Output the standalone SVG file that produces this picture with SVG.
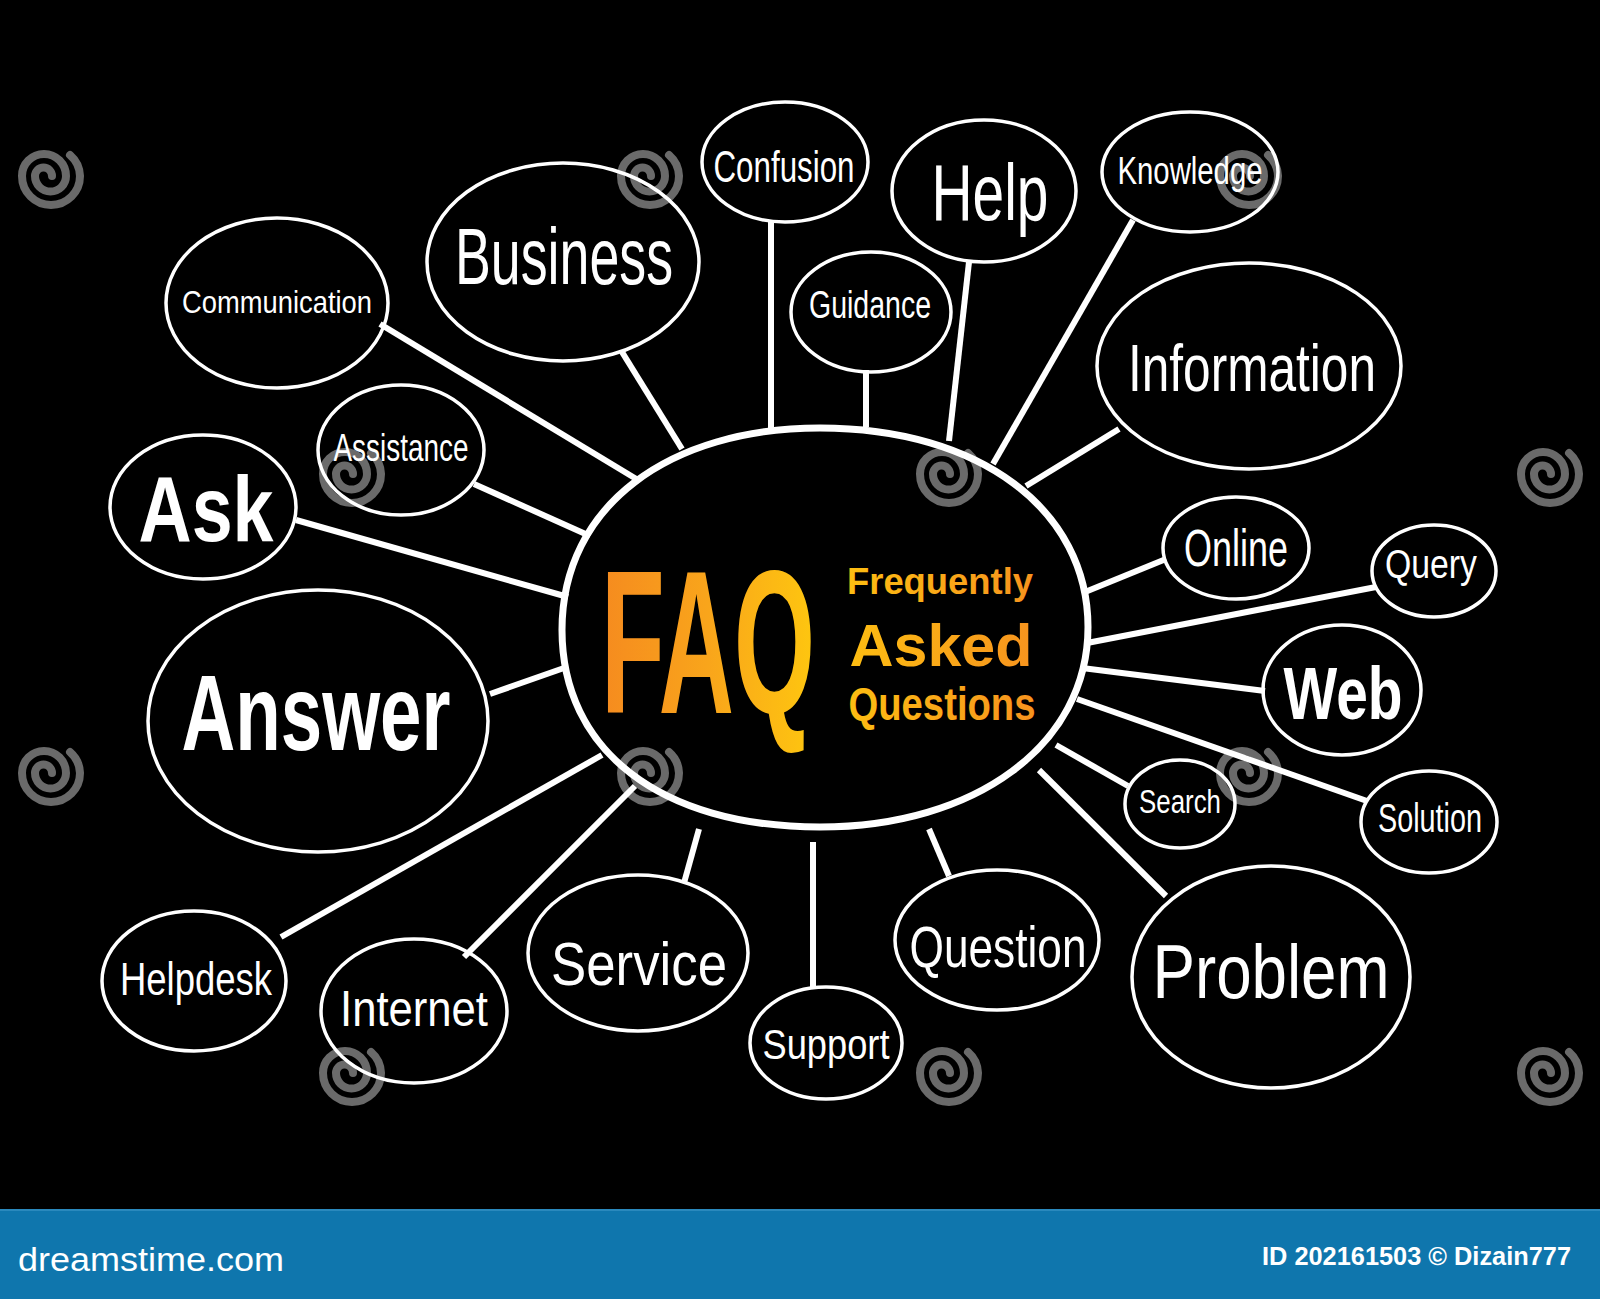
<svg xmlns="http://www.w3.org/2000/svg" width="1600" height="1299" viewBox="0 0 1600 1299">
<defs>
<style>
.node{fill:none;stroke:#fff;stroke-width:3.5}
.conn{stroke:#fff;stroke-width:6;stroke-linecap:butt;fill:none}
.lbl{fill:#fff;font-family:"Liberation Sans","DejaVu Sans",sans-serif;text-anchor:middle}
.b{font-weight:bold}
.wm{fill:none;stroke:#6a6a6a;stroke-width:8;stroke-linecap:round}
</style>
<linearGradient id="gFaq" gradientUnits="userSpaceOnUse" x1="-216" y1="0" x2="216" y2="0">
<stop offset="0" stop-color="#f58a1f"/>
<stop offset="0.5" stop-color="#f9a51b"/>
<stop offset="1" stop-color="#fec70f"/>
</linearGradient>
<linearGradient id="gSub" gradientUnits="userSpaceOnUse" x1="850" y1="0" x2="1036" y2="0">
<stop offset="0" stop-color="#fdbd12"/>
<stop offset="1" stop-color="#f7931e"/>
</linearGradient>
<path id="spiral" d="M 3,0 A 8.5,8.5 0 0 0 -14,0 A 15.5,15.5 0 0 0 17,0 A 22,22 0 0 0 -27,0 A 29,29 0 0 0 31,0 A 29,29 0 0 0 21,-21"/>
</defs>
<rect x="0" y="0" width="1600" height="1299" fill="#000"/>

<g id="watermarks">
<use href="#spiral" class="wm" x="49" y="176"/>
<use href="#spiral" class="wm" x="648" y="176"/>
<use href="#spiral" class="wm" x="1247" y="176"/>
<use href="#spiral" class="wm" x="350" y="474"/>
<use href="#spiral" class="wm" x="947" y="474"/>
<use href="#spiral" class="wm" x="1548" y="474"/>
<use href="#spiral" class="wm" x="49" y="773"/>
<use href="#spiral" class="wm" x="648" y="773"/>
<use href="#spiral" class="wm" x="1247" y="773"/>
<use href="#spiral" class="wm" x="350" y="1073"/>
<use href="#spiral" class="wm" x="947" y="1073"/>
<use href="#spiral" class="wm" x="1548" y="1073"/>
</g>

<g id="connectors">
<line class="conn" x1="380" y1="324" x2="638" y2="480"/>
<line class="conn" x1="622" y1="352" x2="682" y2="449"/>
<line class="conn" x1="771" y1="222" x2="771" y2="429"/>
<line class="conn" x1="866" y1="370" x2="866" y2="427"/>
<line class="conn" x1="969" y1="262" x2="949" y2="441"/>
<line class="conn" x1="1133" y1="220" x2="993" y2="464"/>
<line class="conn" x1="1119" y1="429" x2="1026" y2="486"/>
<line class="conn" x1="474" y1="484" x2="590" y2="536"/>
<line class="conn" x1="296" y1="520" x2="568" y2="597"/>
<line class="conn" x1="490" y1="694" x2="564" y2="668"/>
<line class="conn" x1="281" y1="937" x2="602" y2="755"/>
<line class="conn" x1="464" y1="957" x2="635" y2="786"/>
<line class="conn" x1="684" y1="883" x2="699" y2="829"/>
<line class="conn" x1="813" y1="842" x2="813" y2="988"/>
<line class="conn" x1="929" y1="829" x2="949" y2="876"/>
<line class="conn" x1="1039" y1="770" x2="1166" y2="896"/>
<line class="conn" x1="1056" y1="745" x2="1128" y2="786"/>
<line class="conn" x1="1077" y1="699" x2="1367" y2="801"/>
<line class="conn" x1="1082" y1="668" x2="1265" y2="691"/>
<line class="conn" x1="1087" y1="643" x2="1376" y2="587"/>
<line class="conn" x1="1085" y1="592" x2="1166" y2="559"/>
</g>

<g id="node-faq">
<path d="M 562,630 C 562,505 670,428 820,428 C 980,428 1088,510 1088,627 C 1088,745 975,827 820,827 C 660,827 562,750 562,630 Z" fill="none" stroke="#fff" stroke-width="7"/>
<text transform="translate(708,713) scale(0.508,1)" x="0" y="0" font-family="Liberation Sans,sans-serif" font-weight="bold" font-size="205" fill="url(#gFaq)" text-anchor="middle">FAQ</text>
<text x="940" y="594" font-family="Liberation Sans,sans-serif" font-weight="bold" font-size="36" fill="url(#gSub)" text-anchor="middle" textLength="186" lengthAdjust="spacingAndGlyphs">Frequently</text>
<text x="941" y="666" font-family="Liberation Sans,sans-serif" font-weight="bold" font-size="60" fill="url(#gSub)" text-anchor="middle" textLength="183" lengthAdjust="spacingAndGlyphs">Asked</text>
<text x="942" y="720" font-family="Liberation Sans,sans-serif" font-weight="bold" font-size="46" fill="url(#gSub)" text-anchor="middle" textLength="187" lengthAdjust="spacingAndGlyphs">Questions</text>
</g>

<g id="node-communication"><ellipse class="node" cx="277" cy="303" rx="111" ry="85"/><text class="lbl" x="277" y="313" font-size="32" textLength="190" lengthAdjust="spacingAndGlyphs">Communication</text></g>
<g id="node-business"><ellipse class="node" cx="563" cy="262" rx="136" ry="99"/><text class="lbl" x="564" y="284" font-size="80" textLength="218" lengthAdjust="spacingAndGlyphs">Business</text></g>
<g id="node-confusion"><ellipse class="node" cx="785" cy="162" rx="83" ry="60"/><text class="lbl" x="784" y="182" font-size="44" textLength="141" lengthAdjust="spacingAndGlyphs">Confusion</text></g>
<g id="node-help"><ellipse class="node" cx="984" cy="191" rx="92" ry="71"/><text class="lbl" x="990" y="220" font-size="80" textLength="117" lengthAdjust="spacingAndGlyphs">Help</text></g>
<g id="node-knowledge"><ellipse class="node" cx="1190" cy="172" rx="88" ry="60"/><text class="lbl" x="1190" y="184" font-size="38" textLength="145" lengthAdjust="spacingAndGlyphs">Knowledge</text></g>
<g id="node-guidance"><ellipse class="node" cx="871" cy="312" rx="80" ry="60"/><text class="lbl" x="870" y="318" font-size="38" textLength="122" lengthAdjust="spacingAndGlyphs">Guidance</text></g>
<g id="node-information"><ellipse class="node" cx="1249" cy="366" rx="152" ry="103"/><text class="lbl" x="1252" y="391" font-size="66" textLength="248" lengthAdjust="spacingAndGlyphs">Information</text></g>
<g id="node-assistance"><ellipse class="node" cx="401" cy="450" rx="83" ry="65"/><text class="lbl" x="401" y="461" font-size="38" textLength="135" lengthAdjust="spacingAndGlyphs">Assistance</text></g>
<g id="node-ask"><ellipse class="node" cx="203" cy="507" rx="93" ry="72"/><text class="lbl b" x="206" y="541" font-size="92" textLength="135" lengthAdjust="spacingAndGlyphs">Ask</text></g>
<g id="node-answer"><ellipse class="node" cx="318" cy="721" rx="170" ry="131"/><text class="lbl b" x="316" y="750" font-size="108" textLength="269" lengthAdjust="spacingAndGlyphs">Answer</text></g>
<g id="node-online"><ellipse class="node" cx="1236" cy="548" rx="73" ry="51"/><text class="lbl" x="1236" y="566" font-size="52" textLength="104" lengthAdjust="spacingAndGlyphs">Online</text></g>
<g id="node-query"><ellipse class="node" cx="1434" cy="571" rx="62" ry="46"/><text class="lbl" x="1431" y="578" font-size="40" textLength="92" lengthAdjust="spacingAndGlyphs">Query</text></g>
<g id="node-web"><ellipse class="node" cx="1342" cy="690" rx="79" ry="65"/><text class="lbl b" x="1343" y="719" font-size="74" textLength="119" lengthAdjust="spacingAndGlyphs">Web</text></g>
<g id="node-search"><ellipse class="node" cx="1180" cy="804" rx="55" ry="44"/><text class="lbl" x="1180" y="813" font-size="34" textLength="82" lengthAdjust="spacingAndGlyphs">Search</text></g>
<g id="node-solution"><ellipse class="node" cx="1429" cy="822" rx="68" ry="51"/><text class="lbl" x="1430" y="832" font-size="40" textLength="104" lengthAdjust="spacingAndGlyphs">Solution</text></g>
<g id="node-helpdesk"><ellipse class="node" cx="194" cy="981" rx="92" ry="70"/><text class="lbl" x="196" y="995" font-size="46" textLength="152" lengthAdjust="spacingAndGlyphs">Helpdesk</text></g>
<g id="node-internet"><ellipse class="node" cx="414" cy="1011" rx="93" ry="72"/><text class="lbl" x="414" y="1026" font-size="50" textLength="148" lengthAdjust="spacingAndGlyphs">Internet</text></g>
<g id="node-service"><ellipse class="node" cx="638" cy="953" rx="110" ry="78"/><text class="lbl" x="639" y="985" font-size="62" textLength="176" lengthAdjust="spacingAndGlyphs">Service</text></g>
<g id="node-support"><ellipse class="node" cx="826" cy="1043" rx="76" ry="56"/><text class="lbl" x="826" y="1059" font-size="42" textLength="127" lengthAdjust="spacingAndGlyphs">Support</text></g>
<g id="node-question"><ellipse class="node" cx="997" cy="940" rx="102" ry="70"/><text class="lbl" x="998" y="967" font-size="58" textLength="177" lengthAdjust="spacingAndGlyphs">Question</text></g>
<g id="node-problem"><ellipse class="node" cx="1271" cy="977" rx="139" ry="111"/><text class="lbl" x="1271" y="998" font-size="76" textLength="237" lengthAdjust="spacingAndGlyphs">Problem</text></g>

<g id="footer">
<rect x="0" y="1209" width="1600" height="90" fill="#0f76ad"/>
<rect x="0" y="1209" width="1600" height="2" fill="#2a89bd"/>
<text x="18" y="1271" font-family="Liberation Sans,sans-serif" font-size="34" fill="#fff" textLength="266" lengthAdjust="spacingAndGlyphs">dreamstime.com</text>
<text x="1571" y="1265" font-family="Liberation Sans,sans-serif" font-weight="bold" font-size="26" fill="#fff" text-anchor="end" textLength="309" lengthAdjust="spacingAndGlyphs">ID 202161503 © Dizain777</text>
</g>
</svg>
